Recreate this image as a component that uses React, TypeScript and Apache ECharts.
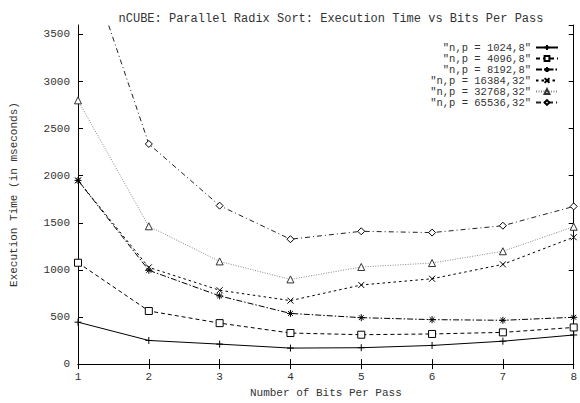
import React, { useEffect, useRef } from "react";
import * as echarts from "echarts";

const bitsPerPass = [1, 2, 3, 4, 5, 6, 7, 8];
const yTicks = [0, 500, 1000, 1500, 2000, 2500, 3000, 3500];
const seriesNames = [
  '"n,p = 1024,8"',
  '"n,p = 4096,8"',
  '"n,p = 8192,8"',
  '"n,p = 16384,32"',
  '"n,p = 32768,32"',
  '"n,p = 65536,32"',
];
const s1024 = [445, 251, 212, 170, 174, 198, 243, 309];
const s4096 = [1076, 564, 435, 330, 312, 320, 337, 389];
const s8192 = [1950, 996, 724, 538, 493, 472, 465, 497];
const s16384 = [1950, 1027, 784, 674, 840, 906, 1059, 1347];
const s32768 = [2800, 1463, 1090, 899, 1031, 1073, 1198, 1458];
const s65536 = [4560, 2337, 1682, 1326, 1410, 1396, 1469, 1674];

const FONT = "Liberation Mono";
const PLUS = "path://M0,5L10,5M5,0L5,10";
const CROSS = "path://M0,0L10,10M10,0L0,10";
const STAR = "path://M0,5L10,5M5,0L5,10M1.5,1.5L8.5,8.5M8.5,1.5L1.5,8.5";

export default function App() {
  const ref = useRef<HTMLDivElement>(null);
  useEffect(() => {
    if (!ref.current) return;
    const chart = echarts.init(ref.current, undefined, { renderer: "svg" });
    const allData = [s1024, s4096, s8192, s16384, s32768, s65536];
    const styles = [
      { symbol: PLUS, size: 7, color: "#000", type: "solid" as any, fill: "#000" },
      { symbol: "rect", size: 7, color: "#000", type: [4, 3], fill: "#fff" },
      { symbol: STAR, size: 7, color: "#000", type: [6, 2, 1.5, 2], fill: "#000" },
      { symbol: CROSS, size: 6, color: "#000", type: [2.5, 3], fill: "#000" },
      { symbol: "triangle", size: 7, color: "#888", type: [1, 1.5], fill: "#fff" },
      { symbol: "diamond", size: 7, color: "#222", type: [5, 3, 1, 3], fill: "#fff" },
    ];
    const series = allData.map((d, i) => ({
      name: seriesNames[i],
      type: "line",
      data: bitsPerPass.map((x, j) => [x, d[j]]),
      symbol: styles[i].symbol,
      symbolSize: styles[i].size,
      showAllSymbol: true,
      clip: true,
      lineStyle: { color: styles[i].color, width: 1, type: styles[i].type },
      itemStyle: {
        color: styles[i].fill,
        borderColor: i === 4 ? "#333" : "#000",
        borderWidth: 1,
      },
      emphasis: { disabled: true },
    }));
    const axisLine = { show: true, lineStyle: { color: "#000", width: 1 } };
    const tick = { show: true, inside: true, length: 5, lineStyle: { color: "#000" } };
    chart.setOption({
      animation: false,
      backgroundColor: "#fff",
      title: {
        text: "nCUBE: Parallel Radix Sort: Execution Time vs Bits Per Pass",
        left: 326,
        top: 8,
        textAlign: "center",
        textStyle: { fontFamily: FONT, fontSize: 12, fontWeight: "normal", color: "#333" },
      },
      legend: {
        orient: "vertical",
        right: 16,
        top: 37,
        align: "right",
        itemWidth: 22,
        itemHeight: 6,
        itemGap: 0,
        textStyle: { fontFamily: FONT, fontSize: 10.5, color: "#333" },
        data: seriesNames,
      },
      grid: { left: 78, right: 6, top: 25, bottom: 34 },
      xAxis: [
        {
          type: "value",
          min: 1,
          max: 8,
          interval: 1,
          name: "Number of Bits Per Pass",
          nameLocation: "middle",
          nameGap: 20,
          nameTextStyle: { fontFamily: FONT, fontSize: 11, color: "#333" },
          axisLine,
          axisTick: tick,
          splitLine: { show: false },
          axisLabel: { fontFamily: FONT, fontSize: 11, color: "#333", margin: 7 },
        },
        {
          type: "value",
          position: "top",
          min: 1,
          max: 8,
          interval: 1,
          axisLine,
          axisTick: tick,
          splitLine: { show: false },
          axisLabel: { show: false },
        },
      ],
      yAxis: [
        {
          type: "value",
          min: 0,
          max: 3600,
          interval: 500,
          name: "Execution Time (in mseconds)",
          nameLocation: "middle",
          nameGap: 59,
          nameTextStyle: { fontFamily: FONT, fontSize: 11, color: "#333" },
          axisLine,
          axisTick: tick,
          splitLine: { show: false },
          axisLabel: {
            fontFamily: FONT,
            fontSize: 11,
            color: "#333",
            margin: 8,
            showMaxLabel: false,
            formatter: (v: number) => (yTicks.includes(v) ? String(v) : ""),
          },
        },
        {
          type: "value",
          position: "right",
          min: 0,
          max: 3600,
          interval: 500,
          axisLine,
          axisTick: tick,
          splitLine: { show: false },
          axisLabel: { show: false },
        },
      ],
      series,
    });
    return () => chart.dispose();
  }, []);
  return (
    <div
      ref={ref}
      style={{ position: "fixed", left: 0, top: 0, width: 580, height: 403, background: "#fff" }}
    />
  );
}
